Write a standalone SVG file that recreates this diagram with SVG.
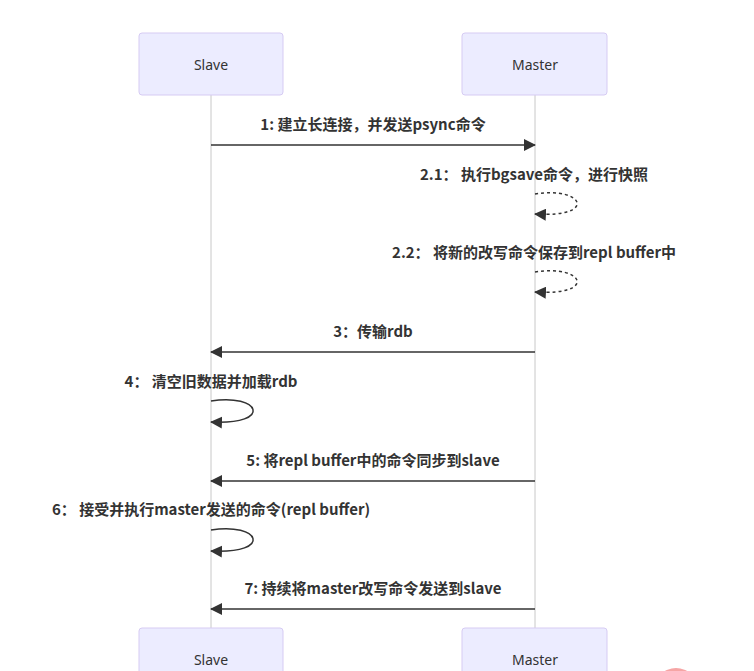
<svg xmlns="http://www.w3.org/2000/svg" width="754" height="671" viewBox="0 0 754 671">
<defs>
<style>
.actor{fill:#ECECFF;stroke:#d6cbf3;stroke-width:1}
.atext{font-family:"Noto Sans","Noto Sans CJK SC",sans-serif;font-size:14px;fill:#333;text-anchor:middle;dominant-baseline:central}
.life{stroke:#c8c8c8;stroke-width:1}
.msg{stroke:#333;stroke-width:1.5;fill:none}
.dash{stroke-dasharray:3,3}
.mtext{font-family:"Noto Sans CJK SC","Noto Sans",sans-serif;font-size:15px;font-weight:bold;fill:#333;text-anchor:middle;dominant-baseline:central}
</style>
<marker id="ah" viewBox="0 0 12 12" refX="11" refY="6" markerWidth="12" markerHeight="12" markerUnits="userSpaceOnUse" orient="auto">
<path d="M0,0 L12,6 L0,12 z" fill="#333"/>
</marker>
</defs>
<rect width="754" height="671" fill="#fff"/>
<g id="lifelines">
<line class="life" x1="211" y1="95" x2="211" y2="628"/>
<line class="life" x1="535" y1="95" x2="535" y2="628"/>
</g>
<g id="slave-top"><rect class="actor" x="139" y="33" width="144" height="62" rx="3"/><text class="atext" x="211" y="64">Slave</text></g>
<g id="master-top"><rect class="actor" x="462" y="33" width="145" height="62" rx="3"/><text class="atext" x="535" y="64">Master</text></g>
<g id="slave-bottom"><rect class="actor" x="139" y="628" width="144" height="62" rx="3"/><text class="atext" x="211" y="659">Slave</text></g>
<g id="master-bottom"><rect class="actor" x="462" y="628" width="145" height="62" rx="3"/><text class="atext" x="535" y="659">Master</text></g>
<g id="connectors">
<line class="msg" x1="211" y1="145" x2="535" y2="145" marker-end="url(#ah)"/>
<path class="msg dash" d="M535,194 C584,186 598,218 535,214" marker-end="url(#ah)"/>
<path class="msg dash" d="M535,272 C584,264 598,296 535,292" marker-end="url(#ah)"/>
<line class="msg" x1="535" y1="352" x2="211" y2="352" marker-end="url(#ah)"/>
<path class="msg" d="M211,401 C260,393 274,425 211,422" marker-end="url(#ah)"/>
<line class="msg" x1="535" y1="481" x2="211" y2="481" marker-end="url(#ah)"/>
<path class="msg" d="M211,530 C260,522 274,554 211,551" marker-end="url(#ah)"/>
<line class="msg" x1="535" y1="609" x2="211" y2="609" marker-end="url(#ah)"/>
</g>
<g id="labels">
<text class="mtext" x="373" y="123">1: 建立长连接，并发送psync命令</text>
<text class="mtext" x="534" y="173">2.1： 执行bgsave命令，进行快照</text>
<text class="mtext" x="534" y="251">2.2： 将新的改写命令保存到repl buffer中</text>
<text class="mtext" x="373" y="330">3：传输rdb</text>
<text class="mtext" x="211" y="380">4： 清空旧数据并加载rdb</text>
<text class="mtext" x="373" y="459">5: 将repl buffer中的命令同步到slave</text>
<text class="mtext" x="211" y="508">6： 接受并执行master发送的命令(repl buffer)</text>
<text class="mtext" x="373" y="587">7: 持续将master改写命令发送到slave</text>
</g>
<ellipse cx="676" cy="690" rx="22" ry="22" fill="#f6a5a5"/>
</svg>
